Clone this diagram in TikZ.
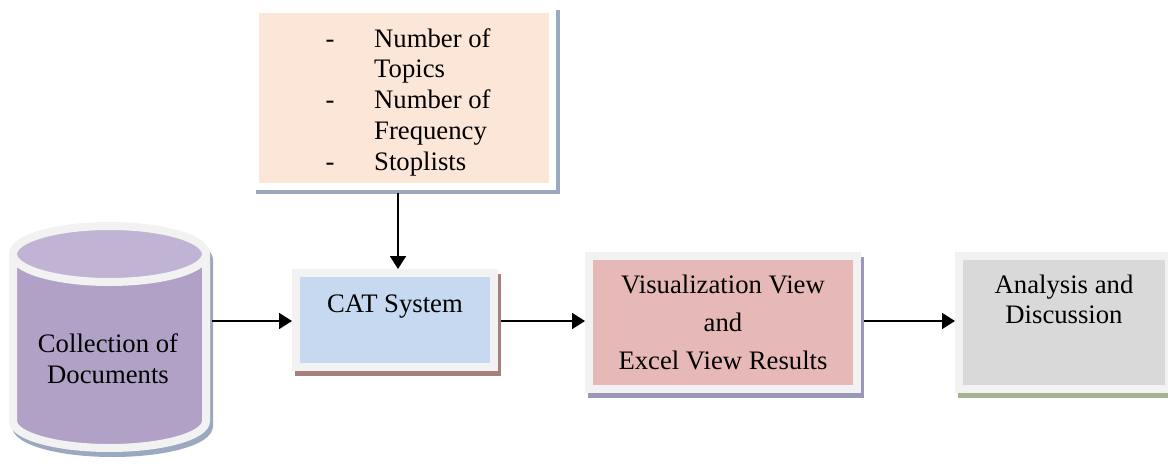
\documentclass[tikz,border=0pt]{standalone}
\usepackage{fontspec}
\setmainfont{Liberation Serif}
\usetikzlibrary{arrows.meta}
\definecolor{framegray}{HTML}{F2F2F2}
\definecolor{cylbody}{HTML}{B2A1C7}
\definecolor{cyltop}{HTML}{C0B3D4}
\definecolor{peach}{HTML}{FBE6D8}
\definecolor{catblue}{HTML}{C6D9F1}
\definecolor{vispink}{HTML}{E6B9B8}
\definecolor{anagray}{HTML}{D9D9D9}
\definecolor{shblue}{HTML}{9AA8C0}
\definecolor{shred}{HTML}{A67F7F}
\definecolor{shpurple}{HTML}{9C97B8}
\definecolor{shgreen}{HTML}{A2B38E}
\begin{document}
\begin{tikzpicture}[x=1pt,y=-1pt,
  txt/.style={font=\fontsize{26.7}{31}\selectfont, inner sep=0pt, anchor=base},
  shd/.style={preaction={draw=#1, fill=#1, line width=8pt, transform canvas={shift={(3pt,-5pt)}}}},
  boxframe/.style={draw=framegray, line width=8pt, inner sep=0pt, outer sep=4pt},
  arr/.style={line width=1.8pt, -{Triangle[length=13pt,width=16pt]}}]
\useasboundingbox (0,0) rectangle (1168,466);
% cylinder
\path[fill=cylbody, draw=framegray, line width=8pt, shd=shblue]
  (13,255) -- (13,421) arc[start angle=180,end angle=0,x radius=96.5,y radius=27]
  -- (206,255) arc[start angle=0,end angle=-180,x radius=96.5,y radius=27] -- cycle;
\path[fill=cyltop, draw=framegray, line width=8pt] (109.5,254) ellipse[x radius=96.5, y radius=28];
\coordinate (cyl) at (212,321);
\node[txt] (c1) at (108,352) {Collection of};
\node[txt] (c2) at (108,383) {Documents};
% top box
\node[draw=white, line width=7pt, inner sep=0pt, outer sep=3.5pt, fill=peach, minimum width=297pt, minimum height=177pt,
  preaction={draw=shblue, fill=shblue, line width=7pt, transform canvas={shift={(4pt,-4pt)}}}]
  (top) at (403.5,98) {};
\node[txt] (d1) at (330,47) {-};
\node[txt] (d2) at (330,108) {-};
\node[txt] (d3) at (330,170) {-};
\node[txt, anchor=base west] (p1) at (374,47) {Number of};
\node[txt, anchor=base west] (p2) at (374,77) {Topics};
\node[txt, anchor=base west] (p3) at (374,108) {Number of};
\node[txt, anchor=base west] (p4) at (374,139) {Frequency};
\node[txt, anchor=base west] (p5) at (374,170) {Stoplists};
% CAT
\node[boxframe, fill=catblue, minimum width=198pt, minimum height=93.5pt, shd=shred] (cat) at (395,319.75) {};
\node[txt] (t1) at (395,312) {CAT System};
% Vis
\node[boxframe, fill=vispink, minimum width=268pt, minimum height=133pt, shd=shpurple] (vis) at (723,322) {};
\node[txt] (v1) at (723,293) {Visualization View};
\node[txt] (v2) at (723,331) {and};
\node[txt] (v3) at (723,369) {Excel View Results};
% Analysis
\node[boxframe, fill=anagray, minimum width=210pt, minimum height=133pt, shd=shgreen] (ana) at (1064,322) {};
\node[txt] (a1) at (1064,293) {Analysis and};
\node[txt] (a2) at (1064,323) {Discussion};
% arrows
\draw[arr] (cyl) -- (cat.west |- cyl);
\draw[arr, shorten <=3pt] (cat.east |- 0,321) -- (vis.west |- 0,321);
\draw[arr, shorten <=3pt] (vis.east |- 0,321) -- (ana.west |- 0,321);
\draw[arr, shorten <=3pt] (top.south -| 398,0) -- (cat.north -| 398,0);
\end{tikzpicture}
\end{document}
